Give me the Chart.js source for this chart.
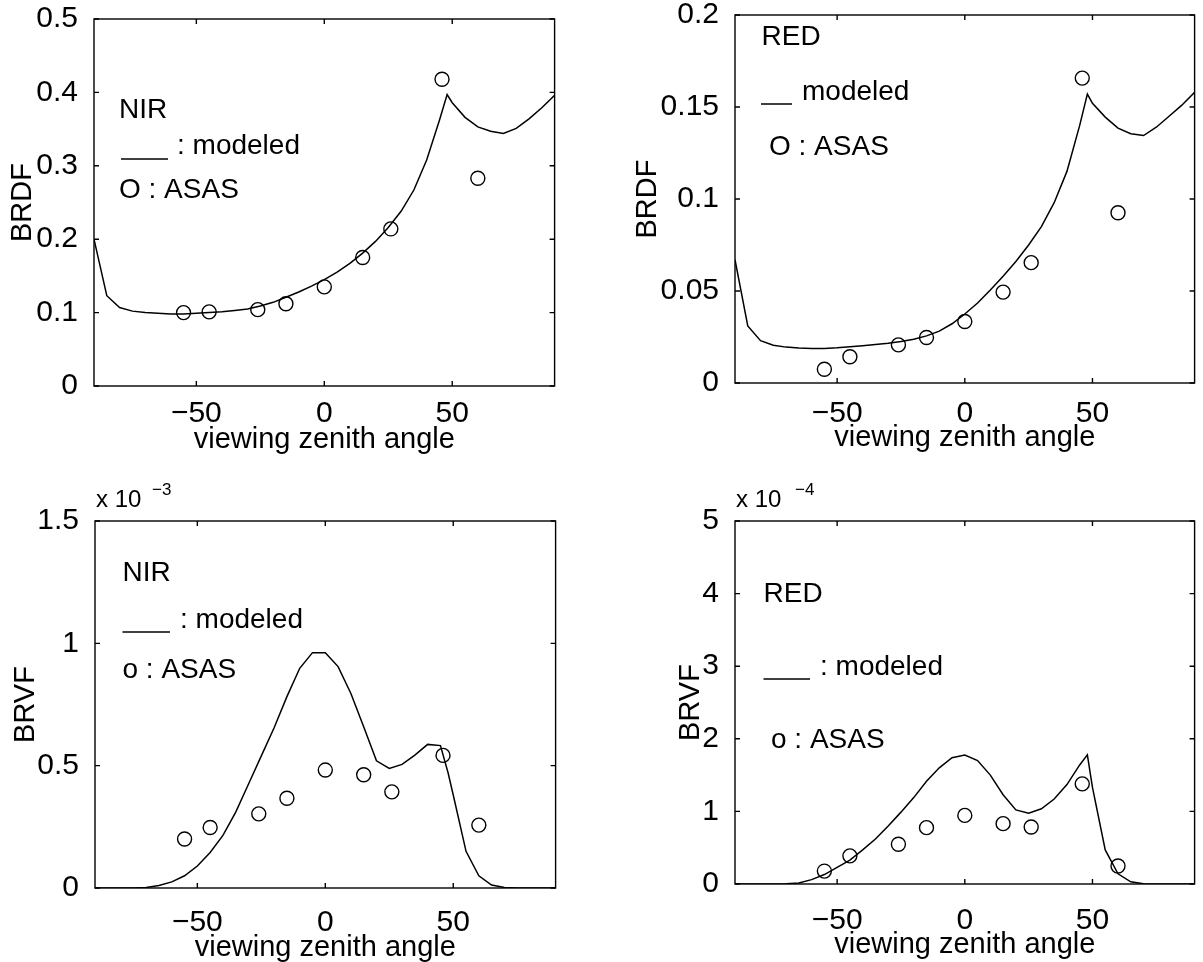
<!DOCTYPE html>
<html>
<head>
<meta charset="utf-8">
<title>BRDF / BRVF vs viewing zenith angle</title>
<script src="https://cdn.jsdelivr.net/npm/chart.js@4.4.1/dist/chart.umd.min.js"></script>
<style>
  html, body { margin: 0; padding: 0; background: #fff; }
  body { width: 1203px; height: 962px; position: relative; overflow: hidden; }
  canvas { position: absolute; }
</style>
</head>
<body>
<canvas id="nirBrdf"></canvas>
<canvas id="redBrdf"></canvas>
<canvas id="nirBrvf"></canvas>
<canvas id="redBrvf"></canvas>
<script>
// viewing zenith angles (deg)
const asasAngles = [-55, -45, -26, -15, 0, 15, 26, 46, 60];
const modelAngles = [-90, -85, -80, -75, -70, -65, -60, -55, -50, -45, -40, -35, -30, -25, -20, -15, -10, -5,
  0, 5, 10, 15, 20, 25, 30, 35, 40, 45, 48, 50, 55, 60, 65, 70, 75, 80, 85, 90];
const angleTicks = [-50, 0, 50];

// NIR BRDF
const nirBrdfModel = [0.200, 0.123, 0.107, 0.102, 0.100, 0.099, 0.098, 0.098, 0.099, 0.100, 0.101, 0.103, 0.105,
  0.109, 0.114, 0.121, 0.128, 0.136, 0.145, 0.155, 0.167, 0.181, 0.197, 0.216, 0.238, 0.267, 0.308, 0.362, 0.397,
  0.386, 0.366, 0.353, 0.347, 0.344, 0.351, 0.364, 0.379, 0.396];
const nirBrdfAsas = [0.100, 0.101, 0.104, 0.112, 0.135, 0.175, 0.214, 0.418, 0.283];
const nirBrdfTicks = [0, 0.1, 0.2, 0.3, 0.4, 0.5];

// RED BRDF
const redBrdfModel = [0.067, 0.031, 0.023, 0.0205, 0.0195, 0.019, 0.0188, 0.0188, 0.0191, 0.0197, 0.0203, 0.0209,
  0.0216, 0.0225, 0.0238, 0.0256, 0.0282, 0.0322, 0.0375, 0.0435, 0.0505, 0.058, 0.066, 0.075, 0.085, 0.098, 0.115,
  0.140, 0.157, 0.152, 0.1445, 0.1385, 0.1355, 0.1345, 0.139, 0.145, 0.151, 0.158];
const redBrdfAsas = [0.0075, 0.0143, 0.0207, 0.0247, 0.0334, 0.0494, 0.0654, 0.1657, 0.0925];
const redBrdfTicks = [0, 0.05, 0.1, 0.15, 0.2];

// NIR BRVF, in units of 1e-3
const nirBrvfModel = [0, 0, 0, 0, 0.002, 0.01, 0.025, 0.05, 0.09, 0.145, 0.215, 0.31, 0.425, 0.54, 0.655, 0.782,
  0.898, 0.962, 0.962, 0.905, 0.795, 0.659, 0.52, 0.489, 0.505, 0.543, 0.587, 0.582, 0.47, 0.38, 0.15, 0.05, 0.012,
  0.002, 0, 0, 0, 0];
const nirBrvfAsas = [0.200, 0.247, 0.303, 0.367, 0.482, 0.463, 0.393, 0.542, 0.257];
const nirBrvfTicks = [0, 0.5, 1, 1.5];

// RED BRVF, in units of 1e-4
const redBrvfModel = [0, 0, 0, 0, 0.003, 0.015, 0.06, 0.13, 0.23, 0.33, 0.47, 0.62, 0.80, 0.99, 1.19, 1.415, 1.60,
  1.74, 1.775, 1.70, 1.50, 1.23, 1.02, 0.976, 1.036, 1.17, 1.37, 1.64, 1.78, 1.33, 0.47, 0.14, 0.03, 0.003, 0, 0, 0, 0];
const redBrvfAsas = [0.178, 0.388, 0.548, 0.776, 0.945, 0.831, 0.785, 1.379, 0.247];
const redBrvfTicks = [0, 1, 2, 3, 4, 5];

const FONT = '"Liberation Sans", Arial, Helvetica, sans-serif';
const AXIS_W = 100;   // room left of the plot box
const AXIS_H = 80;    // room under the plot box
const PAD_TOP = 45;
const PAD_RIGHT = 2;

function points(xs, ys) {
  return xs.map((x, i) => ({ x: x, y: ys[i] }));
}

function fmt(v) {
  return v < 0 ? '\u2212' + Math.abs(v) : String(v);
}

// closed box with inward ticks on all four sides, plus the in-plot notes
const framePlugin = {
  id: 'frame',
  afterDraw(chart, args, opts) {
    const { ctx, chartArea: a } = chart;
    const xs = chart.scales.x, ys = chart.scales.y;
    const t = 5;
    ctx.save();
    ctx.strokeStyle = '#000';
    ctx.lineWidth = 1.4;
    ctx.strokeRect(a.left, a.top, a.right - a.left, a.bottom - a.top);
    ctx.beginPath();
    xs.ticks.forEach(tk => {
      const px = xs.getPixelForValue(tk.value);
      ctx.moveTo(px, a.bottom); ctx.lineTo(px, a.bottom - t);
      ctx.moveTo(px, a.top); ctx.lineTo(px, a.top + t);
    });
    ys.ticks.forEach(tk => {
      const py = ys.getPixelForValue(tk.value);
      ctx.moveTo(a.left, py); ctx.lineTo(a.left + t, py);
      ctx.moveTo(a.right, py); ctx.lineTo(a.right - t, py);
    });
    ctx.stroke();

    ctx.fillStyle = '#000';
    ctx.textAlign = 'left';
    ctx.textBaseline = 'alphabetic';
    ctx.font = '28px ' + FONT;
    opts.notes.forEach(n => ctx.fillText(n.text, a.left + n.dx, a.top + n.dy));

    // line sample for the modeled curve
    const k = opts.key;
    ctx.lineWidth = 1.5;
    ctx.beginPath();
    ctx.moveTo(a.left + k.x0, a.top + k.y);
    ctx.lineTo(a.left + k.x1, a.top + k.y);
    ctx.stroke();

    // axis multiplier, e.g. x 10^-3
    if (opts.exponent) {
      const e = opts.exponent;
      ctx.font = '24px ' + FONT;
      ctx.fillText('x 10', a.left + e.dx, a.top + e.dy);
      ctx.font = '17px ' + FONT;
      ctx.fillText('\u2212' + e.power, a.left + e.supDx, a.top + e.supDy);
    }
    ctx.restore();
  }
};

const panels = [
  {
    id: 'nirBrdf', box: { l: 94, t: 19, r: 561, b: 386 },
    model: nirBrdfModel, asas: nirBrdfAsas, yTicks: nirBrdfTicks, yTitle: 'BRDF',
    yTitlePad: 11.6, xTickPad: 2, xTitlePad: 8.6,
    notes: [
      { text: 'NIR', dx: 25, dy: 99 },
      { text: ': modeled', dx: 83, dy: 135 },
      { text: 'O : ASAS', dx: 25, dy: 179 }
    ],
    key: { x0: 27, x1: 74, y: 140 },
    exponent: null
  },
  {
    id: 'redBrdf', box: { l: 735, t: 15, r: 1201, b: 383 },
    model: redBrdfModel, asas: redBrdfAsas, yTicks: redBrdfTicks, yTitle: 'BRDF',
    yTitlePad: -4.4, xTickPad: 5, xTitlePad: 7.6,
    notes: [
      { text: 'RED', dx: 26.5, dy: 30 },
      { text: 'modeled', dx: 67, dy: 85 },
      { text: 'O : ASAS', dx: 34, dy: 140 }
    ],
    key: { x0: 26, x1: 57, y: 89 },
    exponent: null
  },
  {
    id: 'nirBrvf', box: { l: 95, t: 521, r: 562, b: 888 },
    model: nirBrvfModel, asas: nirBrvfAsas, yTicks: nirBrvfTicks, yTitle: 'BRVF',
    yTitlePad: 13.2, xTickPad: 8.4, xTitlePad: 2.6,
    notes: [
      { text: 'NIR', dx: 27.5, dy: 60 },
      { text: ': modeled', dx: 85, dy: 107 },
      { text: 'o : ASAS', dx: 27.5, dy: 157 }
    ],
    key: { x0: 27.5, x1: 75, y: 111 },
    exponent: { power: 3, dx: 1, dy: -14, supDx: 57, supDy: -26.5 }
  },
  {
    id: 'redBrvf', box: { l: 735, t: 521, r: 1201, b: 884 },
    model: redBrvfModel, asas: redBrvfAsas, yTicks: redBrvfTicks, yTitle: 'BRVF',
    yTitlePad: 39, xTickPad: 10.8, xTitlePad: 1.6,
    notes: [
      { text: 'RED', dx: 28.5, dy: 81 },
      { text: ': modeled', dx: 85, dy: 154 },
      { text: 'o : ASAS', dx: 36, dy: 227 }
    ],
    key: { x0: 28.5, x1: 75, y: 158 },
    exponent: { power: 4, dx: 1, dy: -14, supDx: 60, supDy: -26 }
  }
];

function makePanel(p) {
  const canvas = document.getElementById(p.id);
  const w = (p.box.r - p.box.l) + AXIS_W + PAD_RIGHT;
  const h = (p.box.b - p.box.t) + PAD_TOP + AXIS_H;
  canvas.width = w;
  canvas.height = h;
  canvas.style.left = (p.box.l - AXIS_W) + 'px';
  canvas.style.top = (p.box.t - PAD_TOP) + 'px';

  const yMax = p.yTicks[p.yTicks.length - 1];

  return new Chart(canvas.getContext('2d'), {
    type: 'scatter',
    data: {
      datasets: [
        {
          label: 'modeled',
          data: points(modelAngles, p.model),
          showLine: true,
          borderColor: '#000',
          borderWidth: 1.5,
          pointRadius: 0,
          tension: 0
        },
        {
          label: 'ASAS',
          data: points(asasAngles, p.asas),
          showLine: false,
          pointStyle: 'circle',
          pointRadius: 7,
          borderColor: '#000',
          borderWidth: 1.4,
          backgroundColor: 'rgba(0,0,0,0)'
        }
      ]
    },
    options: {
      responsive: false,
      animation: false,
      devicePixelRatio: 1,
      layout: { padding: { left: 0, top: PAD_TOP, right: PAD_RIGHT, bottom: 0 } },
      plugins: {
        legend: { display: false },
        tooltip: { enabled: false },
        frame: { notes: p.notes, key: p.key, exponent: p.exponent }
      },
      scales: {
        x: {
          type: 'linear',
          position: 'bottom',
          min: -90,
          max: 90,
          afterBuildTicks: s => { s.ticks = angleTicks.map(v => ({ value: v })); },
          afterFit: s => { s.height = AXIS_H; },
          grid: { display: false },
          border: { display: false },
          ticks: {
            color: '#000',
            font: { family: FONT, size: 30 },
            padding: p.xTickPad,
            maxRotation: 0,
            callback: v => fmt(v)
          },
          title: {
            display: true,
            text: 'viewing zenith angle',
            color: '#000',
            font: { family: FONT, size: 29 },
            padding: { top: 0, bottom: p.xTitlePad }
          }
        },
        y: {
          type: 'linear',
          position: 'left',
          min: 0,
          max: yMax,
          afterBuildTicks: s => { s.ticks = p.yTicks.map(v => ({ value: v })); },
          afterFit: s => { s.width = AXIS_W; },
          grid: { display: false },
          border: { display: false },
          ticks: {
            color: '#000',
            font: { family: FONT, size: 30 },
            padding: 8,
            callback: v => fmt(v)
          },
          title: {
            display: true,
            text: p.yTitle,
            color: '#000',
            font: { family: FONT, size: 29 },
            padding: { top: p.yTitlePad, bottom: 0 }
          }
        }
      }
    },
    plugins: [framePlugin]
  });
}

panels.forEach(makePanel);
</script>
</body>
</html>
